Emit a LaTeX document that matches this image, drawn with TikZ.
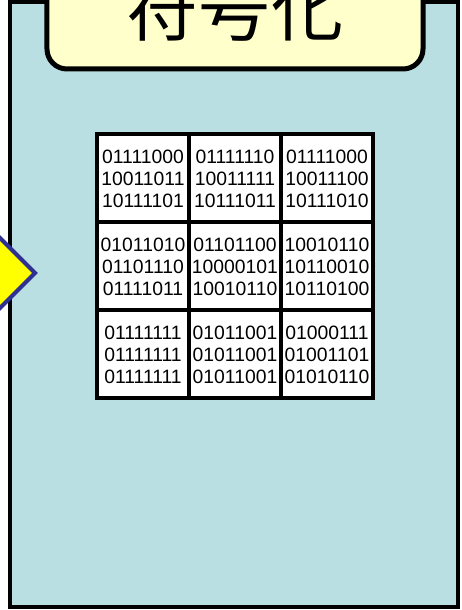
\documentclass[tikz,border=0pt]{standalone}
\usepackage{fontspec}
\setmainfont{Liberation Sans}
\newfontfamily\jpfont{Noto Sans CJK JP}
\definecolor{panelfill}{RGB}{185,223,226}
\definecolor{titlefill}{RGB}{255,255,204}
\definecolor{arrowfill}{RGB}{255,255,0}
\definecolor{arrowline}{RGB}{46,49,146}
\newcommand{\bits}[3]{#1\\#2\\#3}

\begin{document}
\begin{tikzpicture}[
    panel/.style={draw, line width=0.08cm, fill=panelfill},
    titlebox/.style={draw, line width=0.1cm, fill=titlefill, rounded corners=0.4cm,
      minimum width=7.52cm, minimum height=2.42cm, inner sep=0pt,
      font=\jpfont\fontsize{41}{41}\selectfont},
    cell/.style={draw, line width=0.08cm, fill=white, inner sep=0pt,
      minimum width=1.84cm, minimum height=1.76cm, align=center,
      font=\fontsize{11}{12.5}\selectfont}]

\clip (0,0) rectangle (9.24,12.2);

% ---- panel and its title
\draw[panel] (0.2,0.06) rectangle (9.16,12.16);
\node[titlebox] (title) at (4.7,12.03) {符号化};

% ---- incoming arrow head
\draw[line width=0.08cm, draw=arrowline, fill=arrowfill, line join=miter]
  (-0.3,7.74) -- (0.70,6.74) -- (-0.3,5.74);

% ---- code words, one cell per block
\node[cell] (c11) at (2.86,8.63) {\bits{01111000}{10011011}{10111101}};
\node[cell] (c12) at (4.70,8.63) {\bits{01111110}{10011111}{10111011}};
\node[cell] (c13) at (6.54,8.63) {\bits{01111000}{10011100}{10111010}};

\node[cell] (c21) at (2.86,6.87) {\bits{01011010}{01101110}{01111011}};
\node[cell] (c22) at (4.70,6.87) {\bits{01101100}{10000101}{10010110}};
\node[cell] (c23) at (6.54,6.87) {\bits{10010110}{10110010}{10110100}};

\node[cell] (c31) at (2.86,5.11) {\bits{01111111}{01111111}{01111111}};
\node[cell] (c32) at (4.70,5.11) {\bits{01011001}{01011001}{01011001}};
\node[cell] (c33) at (6.54,5.11) {\bits{01000111}{01001101}{01010110}};
\end{tikzpicture}
\end{document}
